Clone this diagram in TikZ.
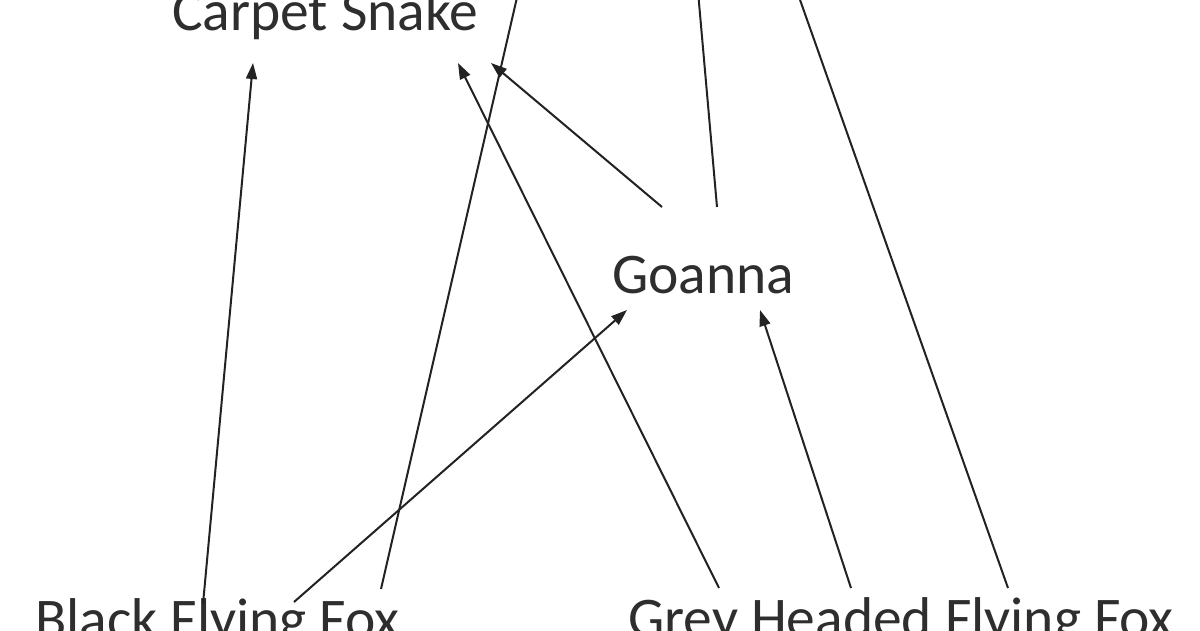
\documentclass[tikz,border=0pt]{standalone}
\usepackage{fontspec}
\setmainfont{Carlito}
\usetikzlibrary{arrows.meta}
\definecolor{inkline}{HTML}{222222}
\definecolor{inktext}{HTML}{2E2E2E}
\tikzset{
  label text/.style={inner sep=0pt, anchor=base west, text=inktext, font=\fontsize{57.5}{60}\selectfont},
  link/.style={draw=inkline, line width=2pt, -{Triangle[length=16pt,width=11pt]}},
  plain link/.style={draw=inkline, line width=2pt}
}
\begin{document}
\begin{tikzpicture}[x=1pt,y=-1pt]
\fill[white] (0,0) rectangle (1200,630);
\useasboundingbox (0,0) rectangle (1200,630);
\clip (0,0) rectangle (1200,630);
% labels
\node[label text] (cs) at (172,30) {Carpet Snake};
\node[label text] (go) at (612,293) {Goanna};
\node[label text] (bff) at (35,638) {Black Flying Fox};
\node[label text] (ghf) at (628,637) {Grey Headed Flying Fox};
% end points
\coordinate (bffA) at (203,604);
\coordinate (bffB) at (294,602);
\coordinate (bffC) at (381,589);
\coordinate (ghfD) at (719,588);
\coordinate (ghfG) at (851,588);
\coordinate (ghfH) at (1008,588);
\coordinate (goE) at (662,207);
\coordinate (goF) at (717,207);
\coordinate (csA) at (253,63);
\coordinate (csD) at (458,63);
\coordinate (csE) at (491,63);
\coordinate (goB) at (627,310);
\coordinate (goG) at (760,310);
\coordinate (upC) at (521,-20);
\coordinate (upF) at (697,-20);
\coordinate (upH) at (793,-20);
% connectors
\draw[link] (bffA) -- (csA);
\draw[link] (bffB) -- (goB);
\draw[plain link] (bffC) -- (upC);
\draw[link] (ghfD) -- (csD);
\draw[link] (goE) -- (csE);
\draw[plain link] (goF) -- (upF);
\draw[link] (ghfG) -- (goG);
\draw[plain link] (ghfH) -- (upH);
\end{tikzpicture}
\end{document}
